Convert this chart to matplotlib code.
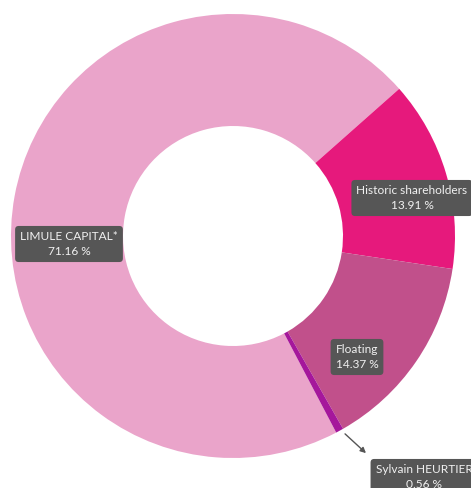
import matplotlib.pyplot as plt

plt.rcParams['font.family'] = ['Lato', 'DejaVu Sans']

# shareholders, in drawing order (clockwise)
names = ['LIMULE CAPITAL*', 'Historic shareholders', 'Floating', 'Sylvain HEURTIER']
shares = [71.16, 13.91, 14.37, 0.56]
colors = ['#eaa4ca', '#e6197c', '#c1508b', '#a5179b']

W, H = 471, 488
fig = plt.figure(figsize=(W / 100, H / 100), dpi=100)
ax = fig.add_axes([0, 0, 1, 1])
ax.set_xlim(0, W)
ax.set_ylim(0, H)
ax.set_aspect('equal')
ax.axis('off')

cx, cy = 233, H - 236
R = 222
wedges, _ = ax.pie(shares, colors=colors, startangle=-62.3, counterclock=False,
                   center=(cx, cy), radius=R, frame=True,
                   wedgeprops=dict(width=R - 110, linewidth=0))
ax.set_xlim(0, W)
ax.set_ylim(0, H)
ax.axis('off')

box = dict(boxstyle='round,pad=0.42,rounding_size=0.3', fc='#565656', ec='none')


def label(x, y, i):
    ax.text(x, H - y, '%s\n%.2f %%' % (names[i], shares[i]), ha='center', va='center',
            color='#f0f0f0', fontsize=8.6, linespacing=1.45, bbox=box, clip_on=False)


label(69, 244, 0)
label(412, 198, 1)
label(357, 357, 2)
label(424, 477, 3)

# connector for the small slice
ax.annotate('', xy=(368, H - 455), xytext=(343, H - 432),
            arrowprops=dict(arrowstyle='-|>', color='#555555', lw=1, mutation_scale=8))

fig.savefig('out.png', dpi=100)
